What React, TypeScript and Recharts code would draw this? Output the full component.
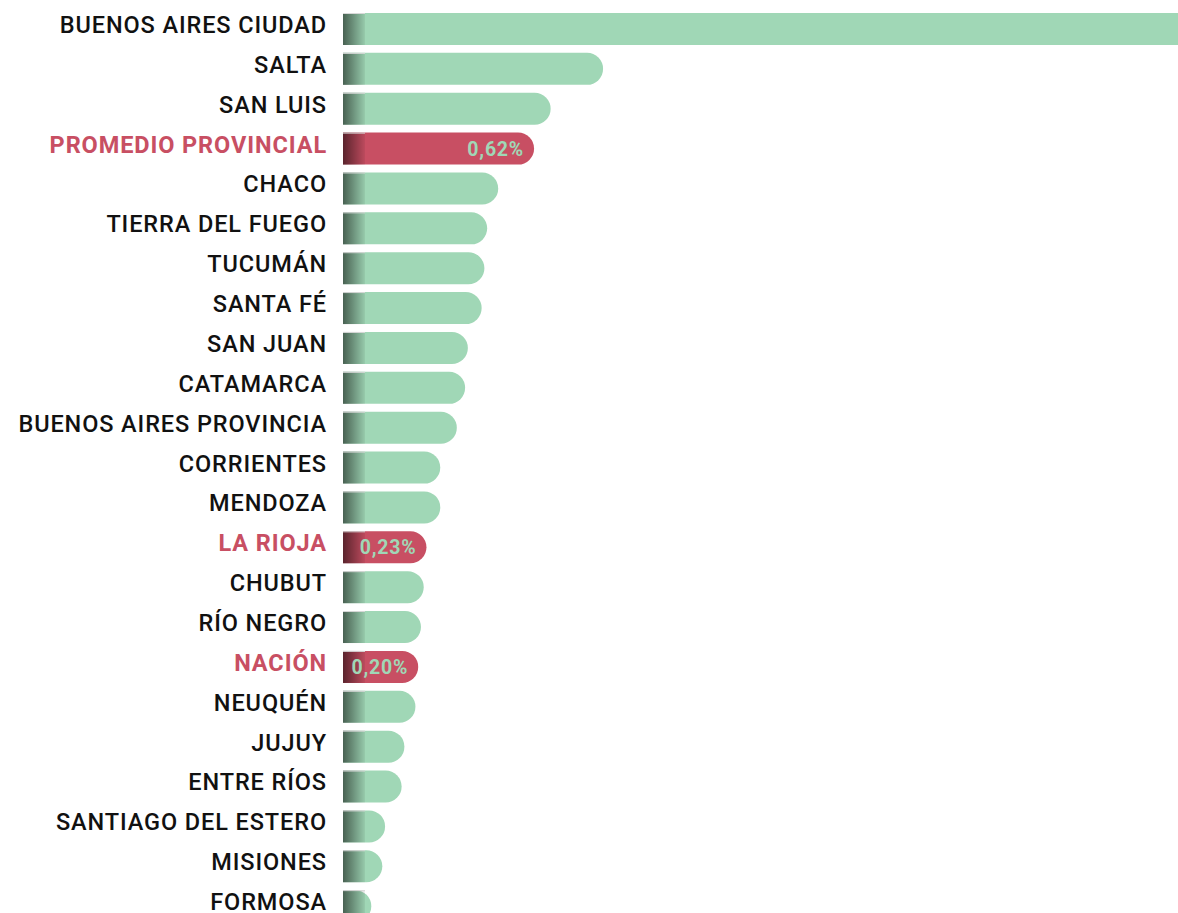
import { BarChart, Bar, XAxis, YAxis, LabelList } from 'recharts';

const provinces = [
  'BUENOS AIRES CIUDAD',
  'SALTA',
  'SAN LUIS',
  'PROMEDIO PROVINCIAL',
  'CHACO',
  'TIERRA DEL FUEGO',
  'TUCUMÁN',
  'SANTA FÉ',
  'SAN JUAN',
  'CATAMARCA',
  'BUENOS AIRES PROVINCIA',
  'CORRIENTES',
  'MENDOZA',
  'LA RIOJA',
  'CHUBUT',
  'RÍO NEGRO',
  'NACIÓN',
  'NEUQUÉN',
  'JUJUY',
  'ENTRE RÍOS',
  'SANTIAGO DEL ESTERO',
  'MISIONES',
  'FORMOSA',
];

// percent values (the first one runs off the picture)
const percents = [
  3.1, 0.87, 0.68, 0.62, 0.49, 0.45, 0.44, 0.43, 0.38, 0.37, 0.34, 0.28, 0.28,
  0.23, 0.22, 0.21, 0.2, 0.19, 0.15, 0.14, 0.08, 0.07, 0.03,
];

const highlighted = ['PROMEDIO PROVINCIAL', 'LA RIOJA', 'NACIÓN'];

const GREEN = '#a0d7b6';
const RED = '#c84f63';
const FONT = 'Roboto, "DejaVu Sans", sans-serif';

const data = provinces.map((name, i) => ({ name, value: percents[i] }));

const isHighlighted = (name: string) => highlighted.includes(name);

function BarShape(props: any) {
  const { x, y, width, height, payload } = props;
  const x0 = x - 20;
  const xe = x + width;
  const r = Math.min(height / 2, xe - x0);
  const fill = isHighlighted(payload.name) ? RED : GREEN;
  const d = `M${x0},${y} H${xe - r} A${r},${r} 0 0 1 ${xe},${y + r} V${y + height - r} A${r},${r} 0 0 1 ${xe - r},${y + height} H${x0} Z`;
  return (
    <g>
      <path d={d} fill={fill} />
      <rect x={x0} y={y} width={22} height={height} fill="url(#edgeShade)" />
      <line x1={x0} x2={x0 + 22} y1={y + 0.5} y2={y + 0.5} stroke="#d9d9d9" strokeWidth={1} />
    </g>
  );
}

function CategoryTick(props: any) {
  const { x, y, payload } = props;
  const hot = isHighlighted(payload.value);
  return (
    <text
      x={x + 1}
      y={y}
      dy={4}
      textAnchor="end"
      fill={hot ? RED : '#111'}
      fontFamily={FONT}
      fontSize={23.5}
      letterSpacing={0.9}
      fontWeight={hot ? 700 : 500}
    >
      {payload.value}
    </text>
  );
}

function ValueLabel(props: any) {
  const { x, y, width, height, value, index } = props;
  if (!isHighlighted(provinces[index])) return null;
  return (
    <text
      x={x + width - 10}
      y={y + height / 2}
      dy={7}
      textAnchor="end"
      fill={GREEN}
      fontFamily={FONT}
      fontSize={19.5}
      letterSpacing={0.8}
      fontWeight={700}
    >
      {value.toFixed(2).replace('.', ',')}%
    </text>
  );
}

export default function App() {
  return (
    <div style={{ position: 'absolute', left: 0, top: 0, width: 1178, height: 913, overflow: 'hidden', background: '#fff' }}>
      <BarChart
        width={1246}
        height={926}
        data={data}
        layout="vertical"
        margin={{ top: 9, right: 0, bottom: 0, left: 0 }}
      >
        <defs>
          <linearGradient id="edgeShade" x1="0" y1="0" x2="1" y2="0">
            <stop offset="0%" stopColor="#000" stopOpacity={0.55} />
            <stop offset="100%" stopColor="#000" stopOpacity={0.06} />
          </linearGradient>
        </defs>
        <XAxis type="number" hide domain={[0, 3.2]} />
        <YAxis
          type="category"
          dataKey="name"
          width={363}
          axisLine={false}
          tickLine={false}
          tickSize={0}
          tickMargin={37}
          interval={0}
          tick={<CategoryTick />}
        />
        <Bar dataKey="value" barSize={32} shape={<BarShape />} isAnimationActive={false}>
          <LabelList dataKey="value" content={<ValueLabel />} />
        </Bar>
      </BarChart>
    </div>
  );
}
